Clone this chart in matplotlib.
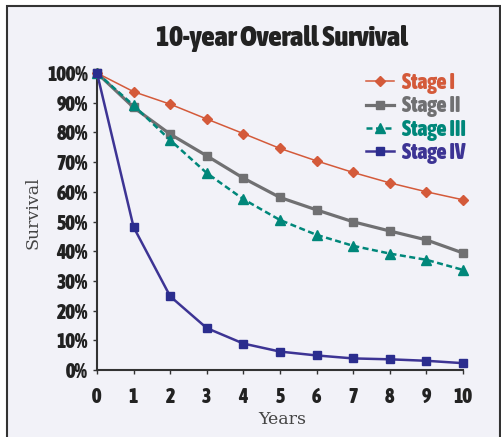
import numpy as np
import matplotlib
matplotlib.use("Agg")
import matplotlib.pyplot as plt
from matplotlib import font_manager
from matplotlib.font_manager import FontProperties
from matplotlib.patches import Rectangle

# Dati di sopravvivenza (%) per stadio
years = [0, 1, 2, 3, 4, 5, 6, 7, 8, 9, 10]
stage_1 = [100, 93.7, 89.5, 84.5, 79.6, 74.6, 70.4, 66.5, 63.0, 60.0, 57.3]
stage_2 = [100, 88.4, 79.4, 72.1, 64.6, 58.1, 53.9, 49.9, 46.8, 43.8, 39.4]
stage_3 = [100, 89.1, 77.4, 66.3, 57.5, 50.5, 45.5, 41.8, 39.2, 37.1, 33.7]
stage_4 = [100, 48.1, 24.8, 14.1, 8.9, 6.2, 4.9, 3.9, 3.6, 3.1, 2.3]
labels = ['Stage I', 'Stage II', 'Stage III', 'Stage IV']
y_ticks = [0, 10, 20, 30, 40, 50, 60, 70, 80, 90, 100]


# Cerca un font grassetto stretto (condensed / narrow) tra quelli installati
def find_narrow_bold():
    best = None
    for f in font_manager.fontManager.ttflist:
        narrow = ('Narrow' in f.name or 'Condensed' in f.name
                  or f.stretch in ('condensed', 'semi-condensed', 'extra-condensed', 550, 600, 500))
        w = f.weight if isinstance(f.weight, int) else 400
        if narrow and w >= 600 and f.style == 'normal':
            if best is None or 'DejaVu' in best.name:
                best = f
    return best


nf = find_narrow_bold()
if nf is not None:
    def bold_font(size):
        return FontProperties(fname=nf.fname, size=size)
    scale = 1.0
else:
    def bold_font(size):
        return FontProperties(family='DejaVu Sans', weight='bold', size=size)
    scale = 0.8

W, H = 502, 437
bg = '#f2f2f8'
fig = plt.figure(figsize=(W / 100, H / 100), dpi=100)
fig.patch.set_facecolor('white')

# Riquadro di sfondo con bordo
frame = Rectangle((7 / W, -0.05), (500 - 7) / W, (H - 5.5) / H + 0.05,
                  transform=fig.transFigure, facecolor=bg, edgecolor='#333333',
                  linewidth=1.5, zorder=0)
fig.add_artist(frame)

ax = fig.add_axes([97 / W, 1 - 370 / H, (463 - 97) / W, (370 - 73) / H])
ax.set_facecolor('none')

ax.plot(years, stage_1, color='#d45a3a', lw=1.1, marker='D', ms=5,
        label=labels[0], clip_on=False, zorder=4)
ax.plot(years, stage_2, color='#707072', lw=2.3, marker='s', ms=5.5,
        label=labels[1], clip_on=False, zorder=3)
ax.plot(years, stage_3, color='#00877a', lw=1.8, ls=(0, (2.4, 1.4)), marker='^', ms=7,
        label=labels[2], clip_on=False, zorder=5)
ax.plot(years, stage_4, color='#3d3494', lw=1.8, marker='s', ms=6, mfc='#2b2d8e',
        mec='#2b2d8e', label=labels[3], clip_on=False, zorder=6)

ax.set_xlim(0, 10)
ax.set_ylim(0, 100)
ax.set_xticks(years)
ax.set_yticks(y_ticks)
ax.set_yticklabels([f'{v}%' for v in y_ticks])

for s in ['top', 'right']:
    ax.spines[s].set_visible(False)
for s in ['left', 'bottom']:
    ax.spines[s].set_color('#333333')
    ax.spines[s].set_linewidth(1.5)

ax.tick_params(axis='x', direction='out', length=3, width=1, color='#333333', pad=9)
ax.tick_params(axis='y', direction='out', length=3, width=1, color='#333333', pad=3.5)
for lab in ax.get_xticklabels() + ax.get_yticklabels():
    lab.set_fontproperties(bold_font(14.5 * scale))
    lab.set_color('#222222')

# Titolo ed etichette degli assi
fig.text(282 / W, 1 - 45.5 / H, '10-year Overall Survival', ha='center', va='baseline',
         fontproperties=bold_font(20.5 * scale), color='#222222')
fig.text(33 / W, 1 - 213 / H, 'Survival', rotation=90, ha='center', va='center',
         family='DejaVu Serif', fontsize=12.5, color='#444444')
fig.text(282 / W, 1 - 420 / H, 'Years', ha='center', va='center',
         family='DejaVu Serif', fontsize=12.5, color='#444444')

leg = ax.legend(loc='upper left', bbox_to_anchor=(366 / W, 1 - 72 / H),
                bbox_transform=fig.transFigure, frameon=False, borderpad=0,
                borderaxespad=0, handlelength=1.3, handletextpad=0.35,
                labelspacing=0.06, prop=bold_font(15.5 * scale))
for text, line in zip(leg.get_texts(), leg.get_lines()):
    text.set_color(line.get_color())

plt.savefig('out.png', dpi=100, facecolor=fig.get_facecolor())
